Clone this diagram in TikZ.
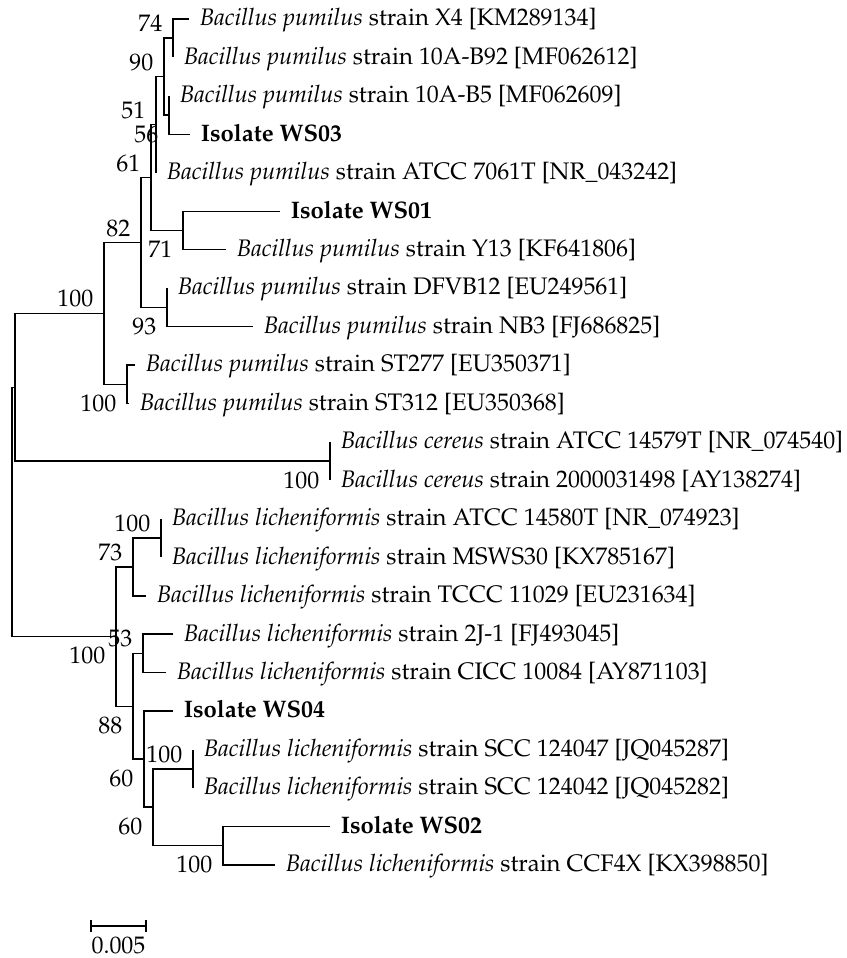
\documentclass[tikz,border=0pt]{standalone}
\usepackage[T1]{fontenc}
\usepackage{mathpazo}
\newcommand{\Bpum}{\textit{Bacillus pumilus}}
\newcommand{\Bcer}{\textit{Bacillus cereus}}
\newcommand{\Blic}{\textit{Bacillus licheniformis}}
\begin{document}
\begin{tikzpicture}[x=0.5pt,y=-19.225pt,line width=0.75pt,
  every node/.style={font=\fontsize{11.95}{14}\selectfont},
  leaf/.style={anchor=west,inner xsep=5pt,inner ysep=0pt,text height=1.45ex,text depth=0pt},
  bsa/.style={anchor=east,inner sep=0pt,xshift=-5pt,yshift=7.25pt},
  bsb/.style={anchor=east,inner sep=0pt,xshift=-5pt,yshift=-9.5pt}]
  \useasboundingbox (0,0.5059) rectangle (846,25.4213);
  % leaves: row / tip x / label
  \foreach \n/\x/\t in {
    1/189/{\Bpum{} strain X4 [KM289134]},
    2/173/{\Bpum{} strain 10A-B92 [MF062612]},
    3/169/{\Bpum{} strain 10A-B5 [MF062609]},
    4/190/{\textbf{Isolate WS03}},
    5/156/{\Bpum{} strain ATCC 7061T [NR\_043242]},
    6/280/{\textbf{Isolate WS01}},
    7/226/{\Bpum{} strain Y13 [KF641806]},
    8/167/{\Bpum{} strain DFVB12 [EU249561]},
    9/253/{\Bpum{} strain NB3 [FJ686825]},
    10/135/{\Bpum{} strain ST277 [EU350371]},
    11/129/{\Bpum{} strain ST312 [EU350368]},
    12/330/{\Bcer{} strain ATCC 14579T [NR\_074540]},
    13/330/{\Bcer{} strain 2000031498 [AY138274]},
    14/161/{\Blic{} strain ATCC 14580T [NR\_074923]},
    15/161/{\Blic{} strain MSWS30 [KX785167]},
    16/146/{\Blic{} strain TCCC 11029 [EU231634]},
    17/173/{\Blic{} strain 2J-1 [FJ493045]},
    18/166/{\Blic{} strain CICC 10084 [AY871103]},
    19/173/{\textbf{Isolate WS04}},
    20/193/{\Blic{} strain SCC 124047 [JQ045287]},
    21/193/{\Blic{} strain SCC 124042 [JQ045282]},
    22/330/{\textbf{Isolate WS02}},
    23/275/{\Blic{} strain CCF4X [KX398850]}} {
    \node[leaf] (L\n) at (\x,\n) {\t};
  }
  % internal nodes
  \coordinate (n74) at (173,1.5);
  \coordinate (n56) at (169,3.5);
  \coordinate (n90) at (164,2.5);
  \coordinate (n51) at (156,3.75);
  \coordinate (n71) at (183,6.5);
  \coordinate (n61) at (151,5.125);
  \coordinate (n93) at (167,8.5);
  \coordinate (n82) at (141,6.8125);
  \coordinate (nST) at (127,10.5);
  \coordinate (npum) at (104,8.65625);
  \coordinate (ncer) at (330,12.5);
  \coordinate (nin) at (15,10.578125);
  \coordinate (nlicA) at (161,14.5);
  \coordinate (n73) at (133,15.25);
  \coordinate (n53) at (143,17.5);
  \coordinate (nSCC) at (193,20.5);
  \coordinate (nCCF) at (223,22.5);
  \coordinate (n60b) at (153,21.5);
  \coordinate (n60a) at (144,20.25);
  \coordinate (n88) at (133,18.875);
  \coordinate (nlic) at (116,17.0625);
  \coordinate (root) at (12,13.8203);
  % branches
  \foreach \p/\c in {n74/L1.west, n74/L2.west, n56/L3.west, n56/L4.west,
    n90/n74, n90/n56, n51/n90, n51/L5.west, n71/L6.west, n71/L7.west,
    n61/n51, n61/n71, n93/L8.west, n93/L9.west, n82/n61, n82/n93,
    nST/L10.west, nST/L11.west, npum/n82, npum/nST,
    ncer/L12.west, ncer/L13.west, nin/npum, nin/ncer,
    nlicA/L14.west, nlicA/L15.west, n73/nlicA, n73/L16.west,
    n53/L17.west, n53/L18.west, nSCC/L20.west, nSCC/L21.west,
    nCCF/L22.west, nCCF/L23.west, n60b/nSCC, n60b/nCCF,
    n60a/L19.west, n60a/n60b, n88/n53, n88/n60a,
    nlic/n73, nlic/n88, root/nin, root/nlic} {
    \draw (\p) |- (\c);
  }
  % bootstrap values
  \foreach \p/\v in {n74/74, n90/90, n51/51, n61/61, n82/82, npum/100,
    nlicA/100, n73/73, n53/53, nSCC/100} {
    \node[bsa] (b\p) at (\p) {\v};
  }
  \foreach \p/\v in {n56/56, n71/71, n93/93, nST/100, ncer/100, nlic/100,
    n88/88, n60a/60, n60b/60, nCCF/100} {
    \node[bsb] (b\p) at (\p) {\v};
  }
  % scale bar
  \coordinate (sbL) at (91,24.589);
  \coordinate (sbR) at (146,24.589);
  \draw (sbL) -- (sbR);
  \draw ([yshift=3pt]sbL) -- ([yshift=-3pt]sbL);
  \draw ([yshift=3pt]sbR) -- ([yshift=-3pt]sbR);
  \node[anchor=north,inner sep=0pt,yshift=-5pt] (sblab) at (118.5,24.589) {0.005};
\end{tikzpicture}
\end{document}
